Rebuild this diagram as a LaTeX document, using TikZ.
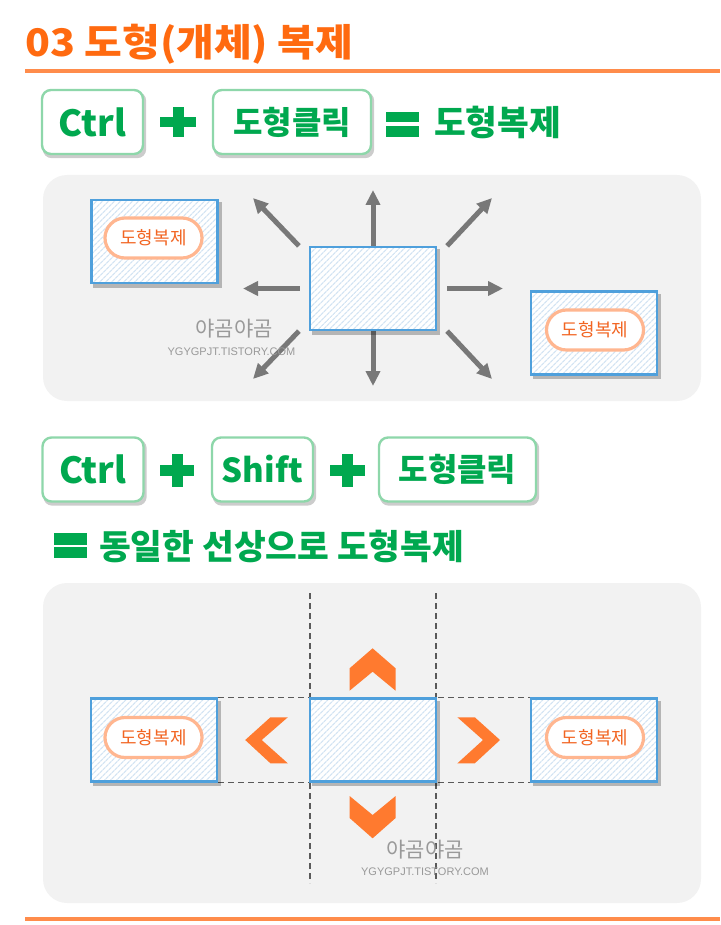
\documentclass[tikz,border=0pt]{standalone}
\usepackage{fontspec}
\setmainfont{Noto Sans CJK KR}
\newfontfamily\krwide{Noto Sans CJK KR}[FakeStretch=1.08]
\newfontfamily\urlfont{Liberation Sans}
\usetikzlibrary{patterns.meta,arrows.meta}
\definecolor{ttlor}{HTML}{FF6A10}
\definecolor{lineor}{HTML}{FF8C4B}
\definecolor{kgreen}{HTML}{00A84F}
\definecolor{kborder}{HTML}{8ED7AA}
\definecolor{panelgray}{HTML}{F2F2F2}
\definecolor{rblue}{HTML}{4FA0DC}
\definecolor{hatchc}{HTML}{D3E4F3}
\definecolor{pillbd}{HTML}{FFB690}
\definecolor{pilltx}{HTML}{F26522}
\definecolor{arrgray}{HTML}{787878}
\definecolor{chev}{HTML}{FF7A2F}
\definecolor{dashgray}{HTML}{5A5A5A}
\definecolor{wmark}{HTML}{999999}
\pgfdeclarelayer{back}
\pgfdeclarelayer{mid}
\pgfsetlayers{back,mid,main}
\tikzset{
  panel/.style={fill=panelgray,rounded corners=24pt},
  keybox/.style={draw=kborder,line width=2.4pt,fill=white,rounded corners=9pt,
    minimum width=101pt,minimum height=64pt,inner sep=0pt,text=kgreen,
    font=\bfseries\fontsize{36}{36}\selectfont},
  keyhan/.style={keybox,font=\bfseries\fontsize{32}{32}\selectfont},
  keyshadow/.style={fill=black,opacity=.2,rounded corners=9pt},
  greentxt/.style={text=kgreen,font=\bfseries\fontsize{34.5}{34.5}\selectfont,inner sep=0pt,anchor=west},
  shapebox/.style={draw=rblue,line width=2.2pt,minimum width=126pt,minimum height=83pt,
    inner sep=0pt,
    preaction={fill=white},
    preaction={pattern={Lines[angle=45,distance=4pt,line width=1.3pt]},pattern color=hatchc}},
  boxshadow/.style={fill=black,opacity=.25},
  pill/.style={draw=pillbd,line width=3.2pt,fill=white,rounded corners=20pt,
    minimum width=97pt,minimum height=40pt,inner sep=0pt,text=pilltx,
    font=\fontsize{18}{18}\selectfont},
  garrow/.style={draw=arrgray,line width=5pt,-{Triangle[width=14pt,length=15pt]}},
  dashline/.style={draw=dashgray,line width=1.2pt,dash pattern=on 6pt off 4pt},
  chevron/.style={fill=chev},
  wmk/.style={text=wmark,font=\fontsize{21}{21}\selectfont,inner sep=0pt},
  wurl/.style={text=wmark,font=\urlfont\fontsize{11}{11}\selectfont,inner sep=0pt},
  orline/.style={draw=lineor,line width=4pt}
}
\newcommand\kshadow[1]{\fill[keyshadow] ([xshift=2pt,yshift=-3pt]#1.south west) rectangle ([xshift=2pt,yshift=-3pt]#1.north east);}
\newcommand\bshadow[1]{\fill[boxshadow] ([xshift=3pt,yshift=-3.5pt]#1.south west) rectangle ([xshift=3pt,yshift=-3.5pt]#1.north east);}
\begin{document}
\begin{tikzpicture}[x=1pt,y=-1pt]
\useasboundingbox (0,0) rectangle (720,925);
% title
\node[anchor=base west,inner sep=0pt,text=ttlor,font=\krwide\bfseries\fontsize{38}{38}\selectfont] (title) at (25,57) {03 도형(개체) 복제};
\coordinate (tl1) at (25,71);
\coordinate (tl2) at (720,71);
\draw[orline] (tl1) -- (tl2);
% row 1
\node[keybox] (k1) at (92.5,122) {Ctrl};
\node[keyhan,minimum width=158pt] (k2) at (292,122) {도형클릭};
\fill[kgreen] (160,117) rectangle (196,127.5);
\fill[kgreen] (172.5,107) rectangle (183.5,137);
\fill[kgreen] (386,112) rectangle (419,122);
\fill[kgreen] (386,126) rectangle (419,137);
\node[greentxt] (r1txt) at (434,122) {도형복제};
% panels
\begin{pgfonlayer}{back}
\fill[panel] (43,175) rectangle (701,401);
\fill[panel] (43,583) rectangle (701,903);
\end{pgfonlayer}
\node[shapebox] (L1) at (154.5,241.5) {};
\node[shapebox] (C1) at (373,288.5) {};
\node[shapebox] (R1) at (594,333) {};
\node[pill] (pL1) at (153.5,238) {도형복제};
\node[pill] (pR1) at (595,330) {도형복제};
\coordinate (tU) at (373,190);
\coordinate (tD) at (373,386);
\coordinate (tL) at (243,288.5);
\coordinate (tR) at (503,288.5);
\coordinate (tUL) at (253,198);
\coordinate (tUR) at (492,198);
\coordinate (tDL) at (253,379);
\coordinate (tDR) at (492,379);
\begin{pgfonlayer}{mid}
\draw[garrow] (C1.north) -- (tU);
\draw[garrow] (C1.south) -- (tD);
\draw[garrow] ([xshift=-9pt]C1.west) -- (tL);
\draw[garrow] ([xshift=10pt]C1.east) -- (tR);
\draw[garrow] ([xshift=-10pt]C1.north west) -- (tUL);
\draw[garrow] ([xshift=10pt]C1.north east) -- (tUR);
\draw[garrow] ([xshift=-10pt]C1.south west) -- (tDL);
\draw[garrow] ([xshift=10pt]C1.south east) -- (tDR);
\end{pgfonlayer}
\node[wmk] (wm1) at (234,329) {야곰야곰};
\node[wurl] (wu1) at (231.5,352) {YGYGPJT.TISTORY.COM};
% row 2
\node[keybox] (k3) at (93,469.5) {Ctrl};
\node[keybox,font=\bfseries\fontsize{33}{33}\selectfont] (k4) at (262.5,469.5) {Shift};
\node[keyhan,minimum width=157pt] (k5) at (457.5,469.5) {도형클릭};
\fill[kgreen] (160,465) rectangle (194,476);
\fill[kgreen] (172,454) rectangle (183,487);
\fill[kgreen] (330,465) rectangle (365,476);
\fill[kgreen] (342,454) rectangle (353,487);
% row 3
\fill[kgreen] (54,533) rectangle (87,545);
\fill[kgreen] (54,547) rectangle (87,558);
\node[greentxt] (r3txt) at (99,546) {동일한 선상으로 도형복제};
% panel 2
\node[shapebox] (L2) at (154,740) {};
\node[shapebox] (C2) at (373,740) {};
\node[shapebox] (R2) at (594,740) {};
\node[pill] (pL2) at (153.5,737.5) {도형복제};
\node[pill] (pR2) at (595,737.5) {도형복제};
\coordinate (dv1t) at (310,593);
\coordinate (dv1b) at (310,883);
\coordinate (dv2t) at (436,593);
\coordinate (dv2b) at (436,883);
\begin{pgfonlayer}{mid}
\draw[dashline] (dv1t) -- (dv1b);
\draw[dashline] (dv2t) -- (dv2b);
\draw[dashline] (L2.north east) -- (R2.north west);
\draw[dashline] (L2.south east) -- (R2.south west);
\kshadow{k1}\kshadow{k2}\kshadow{k3}\kshadow{k4}\kshadow{k5}
\bshadow{L1}\bshadow{C1}\bshadow{R1}\bshadow{L2}\bshadow{C2}\bshadow{R2}
\end{pgfonlayer}
\fill[chevron] (372.6,648.3) -- (395.6,668.3) -- (395.6,690.7) -- (372.6,671.7) -- (349.6,690.7) -- (349.6,668.3) -- cycle;
\fill[chevron] (349.6,796) -- (372.6,815) -- (395.6,796) -- (395.6,818) -- (372.6,838.3) -- (349.6,818) -- cycle;
\fill[chevron] (245.2,740) -- (270.4,717.3) -- (287.8,717.3) -- (261.7,740) -- (287.8,763.3) -- (270.4,763.3) -- cycle;
\fill[chevron] (457.4,717.3) -- (474.8,717.3) -- (500,740) -- (474.8,763.3) -- (457.4,763.3) -- (483,740) -- cycle;
\node[wmk] (wm2) at (425,849.5) {야곰야곰};
\node[wurl] (wu2) at (425,872) {YGYGPJT.TISTORY.COM};
\coordinate (bl1) at (25,919);
\coordinate (bl2) at (720,919);
\draw[orline] (bl1) -- (bl2);
\end{tikzpicture}
\end{document}
